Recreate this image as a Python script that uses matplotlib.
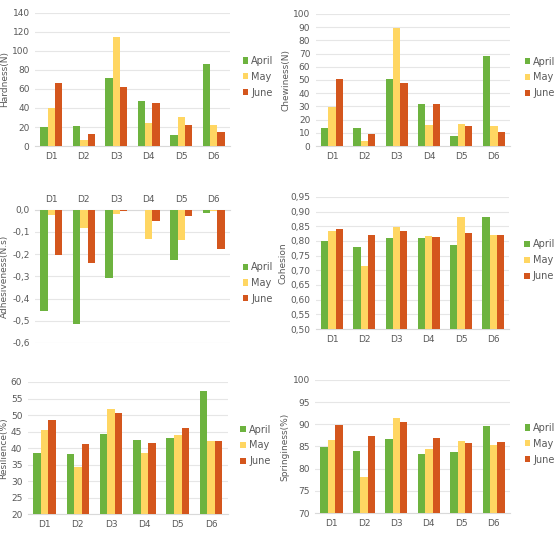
import matplotlib
matplotlib.use("Agg")
import matplotlib.pyplot as plt
import numpy as np

categories = ["D1", "D2", "D3", "D4", "D5", "D6"]
series_names = ["April", "May", "June"]
colors = ["#6DB33F", "#FFD662", "#D4561D"]

hardness_april = [20, 21, 72, 47, 12, 86]
hardness_may = [40, 6, 115, 24, 31, 22]
hardness_june = [66, 13, 62, 45, 22, 15]

chewiness_april = [13.5, 13.5, 50.6, 32, 7.5, 68]
chewiness_may = [29.6, 3.5, 89.6, 15.8, 16.6, 15]
chewiness_june = [50.4, 9.5, 47.8, 31.6, 15.3, 10.5]

adhes_april = [-0.455, -0.513, -0.306, -0.003, -0.228, -0.015]
adhes_may = [-0.026, -0.083, -0.02, -0.131, -0.137, -0.005]
adhes_june = [-0.202, -0.241, -0.008, -0.05, -0.03, -0.178]

cohesion_april = [0.801, 0.780, 0.809, 0.811, 0.785, 0.880]
cohesion_may = [0.833, 0.715, 0.847, 0.816, 0.882, 0.820]
cohesion_june = [0.839, 0.820, 0.833, 0.814, 0.827, 0.820]

resil_april = [38.6, 38.2, 44.3, 42.3, 43.1, 57.4]
resil_may = [45.6, 34.4, 51.8, 38.4, 44.0, 42.0]
resil_june = [48.5, 41.2, 50.6, 41.5, 46.0, 42.1]

spring_april = [84.8, 83.9, 86.6, 83.3, 83.7, 89.7]
spring_may = [86.4, 78.2, 91.3, 84.5, 86.3, 85.3]
spring_june = [89.9, 87.3, 90.4, 86.8, 85.8, 86.0]

TXT = "#595959"
GRID = "#E6E6E6"

fig = plt.figure(figsize=(5.58, 5.35), dpi=100)

def panel(rect, data, ylim, ticks, ylabel, fmt, legend_xy, top_labels=False):
    ax = fig.add_axes(rect)
    x = np.arange(len(categories))
    w = 0.227
    for i, (vals, c, n) in enumerate(zip(data, colors, series_names)):
        vals = np.asarray(vals)
        if top_labels:
            ax.bar(x + (i - 1) * w, vals, w, color=c, label=n, zorder=3)
        else:
            ax.bar(x + (i - 1) * w, vals - ylim[0], w, bottom=ylim[0], color=c, label=n, zorder=3)
    ax.set_xlim(-0.5, len(categories) - 0.5)
    ax.set_ylim(*ylim)
    ax.set_yticks(ticks)
    ax.set_yticklabels([fmt(t) for t in ticks])
    ax.set_xticks(x)
    ax.set_xticklabels(categories)
    ax.yaxis.grid(True, color=GRID, linewidth=0.8, zorder=0)
    for s in ["left", "right", "top", "bottom"]:
        ax.spines[s].set_visible(False)
    if top_labels:
        ax.spines["top"].set_visible(True)
        ax.spines["top"].set_color("#D9D9D9")
        ax.xaxis.tick_top()
        ax.xaxis.set_label_position("top")
    else:
        ax.spines["bottom"].set_visible(True)
        ax.spines["bottom"].set_color("#D9D9D9")
    ax.tick_params(axis="both", length=0, labelsize=6.5, colors=TXT, pad=4)
    ax.set_ylabel(ylabel, fontsize=6.5, color=TXT, labelpad=2)
    ax.legend(loc="center left", bbox_to_anchor=legend_xy, frameon=False,
              fontsize=7, handlelength=0.6, handleheight=0.6,
              handletextpad=0.3, labelspacing=0.6, labelcolor=TXT)
    return ax

def comma(decimals):
    def f(t):
        if abs(t) < 1e-9:
            t = 0.0
        return (f"{t:.{decimals}f}").replace(".", ",")
    return f

ipos = lambda t: f"{t:g}"

panel([0.063, 0.727, 0.349, 0.249], [hardness_april, hardness_may, hardness_june],
      (0, 140), np.arange(0, 141, 20), "Hardness(N)", ipos, (1.02, 0.52))
panel([0.566, 0.727, 0.348, 0.247], [chewiness_april, chewiness_may, chewiness_june],
      (0, 100), np.arange(0, 101, 10), "Chewiness(N)", ipos, (1.03, 0.52))
panel([0.063, 0.359, 0.349, 0.249], [adhes_april, adhes_may, adhes_june],
      (-0.6, 0.0), np.round(np.arange(-0.6, 0.01, 0.1), 1), "Adhesiveness(N.s)",
      comma(1), (1.02, 0.45), top_labels=True)
panel([0.566, 0.385, 0.347, 0.247], [cohesion_april, cohesion_may, cohesion_june],
      (0.5, 0.95), np.round(np.arange(0.5, 0.951, 0.05), 2), "Cohesion", comma(2), (1.03, 0.52))
panel([0.050, 0.039, 0.358, 0.247], [resil_april, resil_may, resil_june],
      (20, 60), np.arange(20, 61, 5), "Resilience(%)", ipos, (1.02, 0.52))
panel([0.565, 0.041, 0.349, 0.249], [spring_april, spring_may, spring_june],
      (70, 100), np.arange(70, 101, 5), "Springiness(%)", ipos, (1.03, 0.52))

fig.savefig("out.png", dpi=100, facecolor="white")
